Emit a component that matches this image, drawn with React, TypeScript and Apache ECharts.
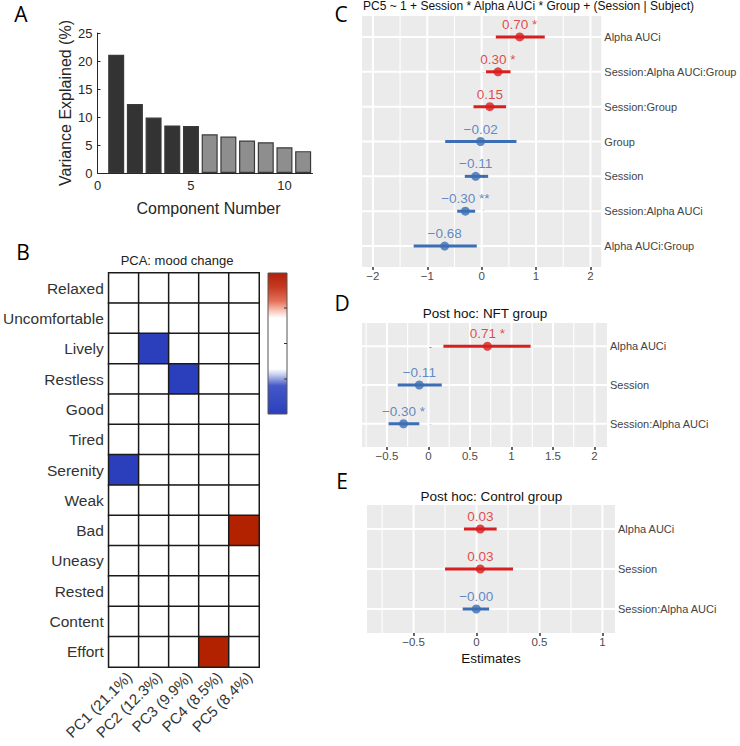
import React, { useEffect, useRef } from 'react';
import * as echarts from 'echarts';

// ---------- Panel A: scree plot ----------
const components = [1, 2, 3, 4, 5, 6, 7, 8, 9, 10, 11];
const varianceExplained = [21.1, 12.3, 9.9, 8.5, 8.4, 6.9, 6.5, 5.8, 5.5, 4.6, 3.9];
const retainedComponents = 5;
const componentTicks = [0, 5, 10];

// ---------- Panel B: PCA loadings (thresholded) ----------
const moods = ['Relaxed', 'Uncomfortable', 'Lively', 'Restless', 'Good', 'Tired', 'Serenity', 'Weak', 'Bad', 'Uneasy', 'Rested', 'Content', 'Effort'];
const pcLabels = ['PC1 (21.1%)', 'PC2 (12.3%)', 'PC3 (9.9%)', 'PC4 (8.5%)', 'PC5 (8.4%)'];
const loadings = [
  [0, 0, 0, 0, 0],
  [0, 0, 0, 0, 0],
  [0, -1, 0, 0, 0],
  [0, 0, -1, 0, 0],
  [0, 0, 0, 0, 0],
  [0, 0, 0, 0, 0],
  [-1, 0, 0, 0, 0],
  [0, 0, 0, 0, 0],
  [0, 0, 0, 0, 1],
  [0, 0, 0, 0, 0],
  [0, 0, 0, 0, 0],
  [0, 0, 0, 0, 0],
  [0, 0, 0, 1, 0],
];

// ---------- Panel C: full model ----------
const termsC = ['Alpha AUCi', 'Session:Alpha AUCi:Group', 'Session:Group', 'Group', 'Session', 'Session:Alpha AUCi', 'Alpha AUCi:Group'];
const estC = [0.70, 0.30, 0.15, -0.02, -0.11, -0.30, -0.68];
const loC = [0.26, 0.08, -0.15, -0.67, -0.31, -0.45, -1.25];
const hiC = [1.16, 0.53, 0.45, 0.64, 0.12, -0.12, -0.09];
const starsC = ['*', '*', '', '', '', '**', ''];
const majorC = [-2, -1, 0, 1, 2];
const minorC = [-1.5, -0.5, 0.5, 1.5];

// ---------- Panel D: NFT group ----------
const termsD = ['Alpha AUCi', 'Session', 'Session:Alpha AUCi'];
const estD = [0.71, -0.11, -0.30];
const loD = [0.18, -0.37, -0.48];
const hiD = [1.23, 0.16, -0.11];
const starsD = ['*', '', '*'];
const majorD = [-0.5, 0, 0.5, 1, 1.5, 2];
const minorD = [-0.75, -0.25, 0.25, 0.75, 1.25, 1.75];

// ---------- Panel E: Control group ----------
const termsE = ['Alpha AUCi', 'Session', 'Session:Alpha AUCi'];
const estE = [0.03, 0.03, -0.002];
const loE = [-0.10, -0.25, -0.11];
const hiE = [0.16, 0.29, 0.10];
const starsE = ['', '', ''];
const majorE = [-0.5, 0, 0.5, 1];
const minorE = [-0.75, -0.25, 0.25, 0.75];

const FONT = 'Liberation Sans, Arial, sans-serif';
const LETTER_FONT = 'Open Sans, sans-serif';
const RED = '#d81e1e';
const BLUE = '#3c6eb4';
const HEAT_BLUE = '#2b3fbd';
const HEAT_RED = '#b22200';

const minus = (s: string) => s.replace('-', '\u2212');
const fmtEst = (v: number) => minus(v.toFixed(2));
const fmtTick = (v: number) => minus(String(Math.round(v * 100) / 100));

function forest(
  g: number,
  xr: [number, number],
  terms: string[], est: number[], lo: number[], hi: number[], stars: string[],
  majors: number[], minors: number[]
) {
  const n = terms.length;
  const rows = terms.map((_, i) => i + 1);
  const xAxis = {
    gridIndex: g, type: 'value', min: xr[0], max: xr[1],
    axisLine: { show: false },
    axisTick: { show: true, customValues: majors, length: 3, lineStyle: { color: '#333', width: 1.5 } },
    axisLabel: { customValues: majors, formatter: fmtTick, fontSize: 11.5, color: '#4d4d4d', margin: 3, fontFamily: FONT },
    splitLine: { show: false },
  };
  const yAxis = {
    gridIndex: g, type: 'value', inverse: true, min: 0.4, max: n + 0.6, position: 'right',
    axisLine: { show: false },
    axisTick: { show: true, customValues: rows, length: 3, lineStyle: { color: '#333', width: 1.5 } },
    axisLabel: {
      customValues: rows, fontSize: 11, color: '#444', margin: 3, fontFamily: FONT,
      formatter: (v: number) => terms[Math.round(v) - 1] ?? '',
    },
    splitLine: { show: false },
  };
  const series: any[] = [
    {
      type: 'custom', xAxisIndex: g, yAxisIndex: g, z: 1, silent: true, clip: false,
      data: [...majors.map((v) => [v, 2]), ...minors.map((v) => [v, 1.1])],
      renderItem: (params: any, api: any) => {
        const x = api.coord([api.value(0), 1])[0];
        const cs = params.coordSys;
        return {
          type: 'line',
          shape: { x1: x, y1: cs.y, x2: x, y2: cs.y + cs.height },
          style: { stroke: '#ffffff', lineWidth: api.value(1) },
        };
      },
    },
    {
      type: 'custom', xAxisIndex: g, yAxisIndex: g, z: 1, silent: true, clip: false,
      data: rows.map((r) => [0, r]),
      renderItem: (params: any, api: any) => {
        const y = api.coord([0, api.value(1)])[1];
        const cs = params.coordSys;
        return {
          type: 'line',
          shape: { x1: cs.x, y1: y, x2: cs.x + cs.width, y2: y },
          style: { stroke: '#ffffff', lineWidth: 2 },
        };
      },
    },
    {
      type: 'custom', xAxisIndex: g, yAxisIndex: g, z: 2, silent: true,
      encode: { x: [0, 2], y: 1 },
      data: rows.map((r, i) => [lo[i], r, hi[i], est[i]]),
      renderItem: (params: any, api: any) => {
        const p1 = api.coord([api.value(0), api.value(1)]);
        const p2 = api.coord([api.value(2), api.value(1)]);
        return {
          type: 'line',
          shape: { x1: p1[0], y1: p1[1], x2: p2[0], y2: p2[1] },
          style: { stroke: api.value(3) < 0 ? BLUE : RED, lineWidth: 3 },
        };
      },
    },
    {
      type: 'scatter', xAxisIndex: g, yAxisIndex: g, z: 3, silent: true,
      symbol: 'circle', symbolSize: 9,
      data: rows.map((r, i) => {
        const c = est[i] < 0 ? BLUE : RED;
        return {
          value: [est[i], r],
          itemStyle: { color: c },
          label: {
            show: true, position: 'top', distance: 1, color: c, fontSize: 13.5, fontFamily: FONT,
            formatter: fmtEst(est[i]) + (stars[i] ? ' ' + stars[i] : ''),
          },
        };
      }),
    },
  ];
  return { xAxis, yAxis, series };
}

export default function App() {
  const ref = useRef<HTMLDivElement>(null);
  useEffect(() => {
    if (!ref.current) return;
    const chart = echarts.init(ref.current, undefined, { renderer: 'svg' });

    const fC = forest(2, [-2.2, 2.2], termsC, estC, loC, hiC, starsC, majorC, minorC);
    const fD = forest(3, [-0.8, 2.15], termsD, estD, loD, hiD, starsD, majorD, minorD);
    const fE = forest(4, [-0.87, 1.10], termsE, estE, loE, hiE, starsE, majorE, minorE);

    const heatData: number[][] = [];
    loadings.forEach((row, r) => row.forEach((v, c) => heatData.push([c, r, v])));

    const txt = (text: string, x: number, y: number, size: number, extra: any = {}) => ({
      type: 'text', x, y, z: 10, silent: true, ...extra,
      style: {
        text, fontSize: size, fontFamily: extra.font || FONT, fill: extra.fill || '#222',
        align: 'center', verticalAlign: 'middle', textAlign: 'center', textVerticalAlign: 'middle',
      },
    });

    const option: any = {
      animation: false,
      textStyle: { fontFamily: FONT },
      grid: [
        { left: 97.5, top: 33, width: 215, height: 140, show: false },
        { left: 105, top: 273, width: 154, height: 394, show: false },
        { left: 362, top: 16, width: 241, height: 251, show: true, backgroundColor: '#ebebeb', borderWidth: 0 },
        { left: 362, top: 323, width: 245, height: 124, show: true, backgroundColor: '#ebebeb', borderWidth: 0 },
        { left: 367, top: 505, width: 248, height: 128, show: true, backgroundColor: '#ebebeb', borderWidth: 0 },
      ],
      xAxis: [
        {
          gridIndex: 0, type: 'value', min: 0, max: 11.5,
          axisLine: { show: true, lineStyle: { color: '#262626', width: 1 } },
          axisTick: { show: true, inside: true, length: 3, customValues: componentTicks, lineStyle: { color: '#262626' } },
          axisLabel: { customValues: componentTicks, fontSize: 13, color: '#262626', margin: 6 },
          splitLine: { show: false },
        },
        {
          gridIndex: 1, type: 'category', data: pcLabels,
          axisLine: { show: false }, axisTick: { show: false },
          axisLabel: { rotate: 45, fontSize: 15, color: '#333', margin: 2, interval: 0, verticalAlign: 'top' },
          splitLine: { show: false },
        },
        fC.xAxis, fD.xAxis, fE.xAxis,
      ],
      yAxis: [
        {
          gridIndex: 0, type: 'value', min: 0, max: 25, interval: 5,
          axisLine: { show: true, lineStyle: { color: '#262626', width: 1 } },
          axisTick: { show: true, inside: true, length: 3, lineStyle: { color: '#262626' } },
          axisLabel: { fontSize: 13, color: '#262626', margin: 5 },
          splitLine: { show: false },
        },
        {
          gridIndex: 1, type: 'category', data: moods, inverse: true,
          axisLine: { show: false }, axisTick: { show: false },
          axisLabel: { fontSize: 15.5, color: '#333', margin: 5, interval: 0 },
          splitLine: { show: false },
        },
        fC.yAxis, fD.yAxis, fE.yAxis,
      ],
      visualMap: {
        type: 'continuous', show: false, min: -1, max: 1, seriesIndex: 1,
        inRange: { color: [HEAT_BLUE, '#ffffff', HEAT_RED] },
      },
      series: [
        {
          type: 'bar', xAxisIndex: 0, yAxisIndex: 0, barWidth: 16, silent: true,
          data: components.map((c, i) => ({
            value: [c, varianceExplained[i]],
            itemStyle: {
              color: i < retainedComponents ? '#333333' : '#8e8e8e',
              borderColor: '#3a3a3a', borderWidth: 1.2,
            },
          })),
        },
        {
          type: 'heatmap', xAxisIndex: 1, yAxisIndex: 1, silent: true,
          data: heatData,
          itemStyle: { borderColor: '#1a1a1a', borderWidth: 1.5 },
          emphasis: { disabled: true },
        },
        ...fC.series, ...fD.series, ...fE.series,
      ],
      graphic: [
        txt('A', 21, 14, 21, { font: LETTER_FONT, fill: '#000' }),
        txt('B', 23, 252, 21, { font: LETTER_FONT, fill: '#000' }),
        txt('C', 341, 14, 21, { font: LETTER_FONT, fill: '#000' }),
        txt('D', 342, 303, 21, { font: LETTER_FONT, fill: '#000' }),
        txt('E', 342, 481, 21, { font: LETTER_FONT, fill: '#000' }),
        txt('Variance Explained (%)', 65, 103, 16, { rotation: Math.PI / 2, fill: '#262626' }),
        txt('Component Number', 208.5, 208, 16, { fill: '#262626' }),
        txt('PCA: mood change', 177, 260, 13, { fill: '#222' }),
        txt('PC5 ~ 1 + Session * Alpha AUCi * Group + (Session | Subject)', 528.5, 5.5, 12, { fill: '#111' }),
        txt('Post hoc: NFT group', 485, 313, 13.5, { fill: '#111' }),
        txt('Post hoc: Control group', 491.3, 496, 13.5, { fill: '#111' }),
        txt('Estimates', 491, 658, 13.5, { fill: '#111' }),
        {
          type: 'rect', z: 10, silent: true,
          shape: { x: 268, y: 273, width: 19, height: 141 },
          style: {
            fill: new echarts.graphic.LinearGradient(0, 0, 0, 1, [
              { offset: 0, color: '#b2210a' },
              { offset: 0.1, color: '#c63a20' },
              { offset: 0.2, color: '#e4705a' },
              { offset: 0.27, color: '#f8c8bb' },
              { offset: 0.32, color: '#ffffff' },
              { offset: 0.68, color: '#ffffff' },
              { offset: 0.72, color: '#c8d0f0' },
              { offset: 0.8, color: '#4458c8' },
              { offset: 1, color: '#2b3fbd' },
            ]),
            stroke: '#555', lineWidth: 1,
          },
        },
        { type: 'line', z: 11, silent: true, shape: { x1: 284, y1: 308, x2: 287, y2: 308 }, style: { stroke: '#333', lineWidth: 1 } },
        { type: 'line', z: 11, silent: true, shape: { x1: 284, y1: 343.5, x2: 287, y2: 343.5 }, style: { stroke: '#333', lineWidth: 1 } },
        { type: 'line', z: 11, silent: true, shape: { x1: 284, y1: 379, x2: 287, y2: 379 }, style: { stroke: '#333', lineWidth: 1 } },
      ],
    };
    chart.setOption(option);
    return () => chart.dispose();
  }, []);
  return <div ref={ref} style={{ position: 'absolute', left: 0, top: 0, width: 740, height: 746, background: '#fff' }} />;
}
